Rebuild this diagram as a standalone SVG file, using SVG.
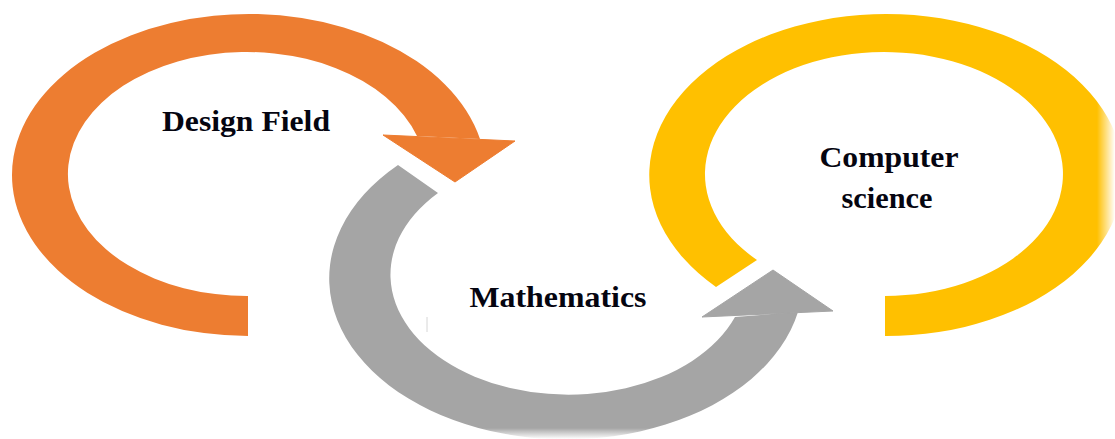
<svg xmlns="http://www.w3.org/2000/svg" width="1115" height="439" viewBox="0 0 1115 439">
  <defs>
    <style>
      .lbl { font-family: "Liberation Serif", "Times New Roman", serif; font-weight: bold; fill: #050510; text-anchor: middle; }
      .orange { fill: #ED7D31; }
      .gray { fill: #A5A5A5; }
      .yellow { fill: #FFC000; }
      .head-o { fill: #ED7D31; stroke: #ED7D31; stroke-width: 1; }
      .head-g { fill: #A5A5A5; stroke: #A5A5A5; stroke-width: 1; }
    </style>
    <linearGradient id="fadeR" x1="0" y1="0" x2="1" y2="0">
      <stop offset="0" stop-color="#fff" stop-opacity="0"/>
      <stop offset="1" stop-color="#fff" stop-opacity="1"/>
    </linearGradient>
    <linearGradient id="fadeB" x1="0" y1="0" x2="0" y2="1">
      <stop offset="0" stop-color="#fff" stop-opacity="0"/>
      <stop offset="1" stop-color="#fff" stop-opacity="1"/>
    </linearGradient>
  </defs>
  <rect width="1115" height="439" fill="#fff"/>

  <g id="node-design-field">
    <path class="orange" d="M 248,336 A 237 161 0 1 1 480,139 L 417,136 A 179 122 0 1 0 248,296 Z"/>
    <text class="lbl" x="246" y="131" font-size="29" textLength="168" lengthAdjust="spacingAndGlyphs">Design Field</text>
  </g>

  <g id="node-mathematics">
    <path class="gray" d="M 398,165 A 237 161 0 1 0 798,312 L 735,317 A 178 120 0 1 1 438,193 Z"/>
    <text class="lbl" x="558" y="307" font-size="30" textLength="177" lengthAdjust="spacingAndGlyphs">Mathematics</text>
    <line x1="427" y1="317" x2="427" y2="332" stroke="#d6d6d6" stroke-width="1"/>
  </g>

  <g id="node-computer-science">
    <path class="yellow" d="M 885,336 A 237 161 0 1 0 716,287 L 757,260 A 179 122 0 1 1 885,296 Z"/>
    <text class="lbl" x="889" y="167" font-size="29" textLength="139" lengthAdjust="spacingAndGlyphs">Computer</text>
    <text class="lbl" x="887" y="208" font-size="29" textLength="91" lengthAdjust="spacingAndGlyphs">science</text>
  </g>

  <g id="connectors">
    <polygon class="head-o" points="383,135 515,141 455,182"/>
    <polygon class="head-g" points="702,317 773,270 833,311"/>
  </g>

  <rect x="1097" y="0" width="18" height="439" fill="url(#fadeR)"/>
  <rect x="0" y="428" width="1115" height="11" fill="url(#fadeB)"/>
</svg>
